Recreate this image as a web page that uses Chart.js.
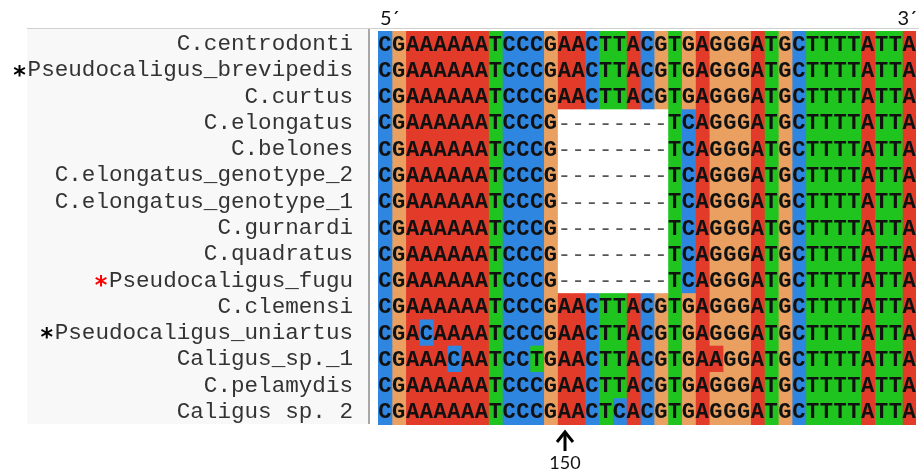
<!DOCTYPE html>
<html><head><meta charset="utf-8">
<script src="https://cdn.jsdelivr.net/npm/chart.js@4.4.1/dist/chart.umd.min.js"></script>
<style>html,body{margin:0;padding:0;background:#fff;}#wrap{width:919px;height:473px;position:relative;}</style>
</head><body><div id="wrap"><canvas id="c"></canvas></div>
<script>
const species = ["C.centrodonti","Pseudocaligus_brevipedis","C.curtus","C.elongatus","C.belones",
  "C.elongatus_genotype_2","C.elongatus_genotype_1","C.gurnardi","C.quadratus","Pseudocaligus_fugu",
  "C.clemensi","Pseudocaligus_uniartus","Caligus_sp._1","C.pelamydis","Caligus sp. 2"];
const sequences = [
  "CGAAAAAATCCCGAACTTACGTGAGGGATGCTTTTATTA",
  "CGAAAAAATCCCGAACTTACGTGAGGGATGCTTTTATTA",
  "CGAAAAAATCCCGAACTTACGTGAGGGATGCTTTTATTA",
  "CGAAAAAATCCCG--------TCAGGGATGCTTTTATTA",
  "CGAAAAAATCCCG--------TCAGGGATGCTTTTATTA",
  "CGAAAAAATCCCG--------TCAGGGATGCTTTTATTA",
  "CGAAAAAATCCCG--------TCAGGGATGCTTTTATTA",
  "CGAAAAAATCCCG--------TCAGGGATGCTTTTATTA",
  "CGAAAAAATCCCG--------TCAGGGATGCTTTTATTA",
  "CGAAAAAATCCCG--------TCAGGGATGCTTTTATTA",
  "CGAAAAAATCCCGAACTTACGTGAGGGATGCTTTTATTA",
  "CGACAAAATCCCGAACTTACGTGAGGGATGCTTTTATTA",
  "CGAAACAATCCTGAACTTACGTGAAGGATGCTTTTATTA",
  "CGAAAAAATCCCGAACTTACGTGAGGGATGCTTTTATTA",
  "CGAAAAAATCCCGAACTCACGTGAGGGATGCTTTTATTA"
];
const markers = ["","*","","","","","","","","*","","*","","",""];
const markerColors = ["","#000","","","","","","","","#ff0000","","#000","","",""];
const endLabels = ["5\u00b4","3\u00b4"];
const positionLabel = "150";
const positionColumn = 14;
const baseColors = {A:"#e33b2a", C:"#2f86e0", G:"#e9a060", T:"#1fc41f", "-":"#ffffff"};

const nCols = sequences[0].length;
const columns = Array.from({length:nCols}, (_, c) => c);
const labelFontSize = 22.6;

const decor = {
  id: "decor",
  beforeDraw(chart) {
    const ctx = chart.ctx, a = chart.chartArea;
    ctx.save();
    ctx.fillStyle = "#f8f8f8";
    ctx.fillRect(27, a.top - 2, a.left - 9 - 27, a.bottom - a.top + 1);
    ctx.fillStyle = "#d0d0d0";
    ctx.fillRect(27, a.top - 3, 919 - 27, 1);
    ctx.fillStyle = "#a8a8a8";
    ctx.fillRect(a.left - 10, a.top - 2, 2, a.bottom - a.top + 1);
    ctx.restore();
  },
  afterDatasetsDraw(chart) {
    const ctx = chart.ctx, a = chart.chartArea;
    ctx.save();
    ctx.textAlign = "center";
    ctx.textBaseline = "middle";
    chart.data.datasets.forEach((ds, c) => {
      const meta = chart.getDatasetMeta(c);
      meta.data.forEach((el, r) => {
        const ch = sequences[r][c];
        const cx = (el.x + el.base) / 2;
        if (ch === "-") {
          ctx.font = "22px 'Liberation Mono'";
          ctx.fillStyle = "#555";
        } else {
          ctx.font = "bold 22px 'Liberation Mono'";
          ctx.fillStyle = "#111";
        }
        ctx.fillText(ch, cx, el.y + 1);
      });
    });
    // asterisks
    const ys = chart.scales.y;
    ctx.font = labelFontSize + "px 'Liberation Mono'";
    species.forEach((name, r) => {
      if (!markers[r]) return;
      const w = ctx.measureText(name).width;
      const right = a.left - 17;
      const y = ys.getPixelForValue(r);
      ctx.save();
      ctx.font = "bold 24px 'DejaVu Sans'";
      ctx.fillStyle = markerColors[r];
      ctx.textAlign = "center";
      ctx.fillText(markers[r], right - w - 16, y + 6);
      ctx.restore();
    });
    // end labels
    ctx.font = "20px Lato";
    ctx.fillStyle = "#111";
    ctx.textAlign = "left";
    ctx.fillText(endLabels[0], a.left + 2, 19);
    ctx.textAlign = "right";
    ctx.fillText(endLabels[1], a.right + 1, 19);
    // arrow + position label
    const xs = chart.scales.x;
    const px = Math.round(xs.getPixelForValue(positionColumn - 0.5)) + 1;
    ctx.strokeStyle = "#000";
    ctx.lineWidth = 3;
    ctx.beginPath();
    ctx.moveTo(px, 451); ctx.lineTo(px, 434);
    ctx.stroke();
    ctx.beginPath();
    ctx.moveTo(px - 8, 442); ctx.lineTo(px, 432); ctx.lineTo(px + 8, 442);
    ctx.stroke();
    ctx.textAlign = "center";
    ctx.font = "18px Lato";
    ctx.fillText(positionLabel, px, 463);
    ctx.restore();
  }
};

new Chart(document.getElementById("c"), {
  type: "bar",
  data: {
    labels: species,
    datasets: columns.map(c => ({
      label: "pos" + (c + 1),
      data: species.map(() => 1),
      backgroundColor: (cx) => baseColors[sequences[cx.dataIndex][c]],
      borderWidth: 0,
      inflateAmount: 0.5,
      barPercentage: 1,
      categoryPercentage: 1
    }))
  },
  options: {
    indexAxis: "y",
    responsive: true,
    maintainAspectRatio: false,
    animation: false,
    layout: { padding: { left: 0, right: 3, top: 31, bottom: 48 } },
    plugins: { legend: { display: false }, tooltip: { enabled: false } },
    scales: {
      x: { type: "linear", stacked: true, min: 0, max: nCols, display: false },
      y: {
        stacked: true,
        grid: { display: false },
        border: { display: false },
        ticks: { color: "#333", padding: 17, font: { family: "'Liberation Mono'", size: labelFontSize }, autoSkip: false },
        afterFit(scale) { scale.width = 378; }
      }
    }
  },
  plugins: [decor]
});
</script>
</body></html>
